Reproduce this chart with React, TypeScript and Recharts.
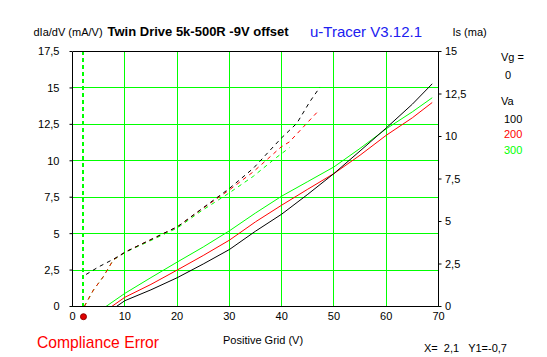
import React from "react";
import {
  LineChart,
  Line,
  XAxis,
  YAxis,
  CartesianGrid,
  ReferenceLine,
  ReferenceDot,
} from "recharts";

// ---- axis ticks ----
const xTicks = [0, 10, 20, 30, 40, 50, 60, 70];
const gmTicks = [0, 2.5, 5, 7.5, 10, 12.5, 15, 17.5];
const isTicks = [0, 2.5, 5, 7.5, 10, 12.5, 15];

// ---- legend ----
const vgValue = "0";
const vaValues = ["100", "200", "300"];

// ---- anode current Is (mA) vs positive grid voltage (V) ----
const isVa100: [number, number][] = [
  [8.4, 0], [10, 0.34], [15, 0.98], [20, 1.69], [25, 2.5], [30, 3.35], [35, 4.43],
  [40, 5.43], [45, 6.6], [50, 7.82], [55, 9.15], [60, 10.5], [65, 11.9], [68.8, 13.1],
];
const isVa200: [number, number][] = [
  [7.5, 0], [10, 0.54], [15, 1.3], [20, 2.14], [25, 3.0], [30, 3.9], [35, 4.98],
  [40, 5.96], [45, 6.9], [50, 7.82], [55, 8.9], [60, 10.07], [65, 11.1], [68.8, 12.0],
];
const isVa300: [number, number][] = [
  [6.4, 0], [10, 0.77], [15, 1.7], [20, 2.61], [25, 3.5], [30, 4.45], [35, 5.5],
  [40, 6.49], [45, 7.35], [50, 8.21], [55, 9.3], [60, 10.45], [65, 11.45], [68.8, 12.28],
];

// ---- transconductance dIa/dV (mA/V) ----
const gmVa100: [number, number][] = [
  [2.6, 2.2], [5, 2.72], [7.8, 3.24], [10.2, 3.76], [14.8, 4.56], [20.1, 5.48], [24.4, 6.62],
  [30, 8.1], [34.6, 9.49], [39.9, 11.54], [42.9, 12.57], [45.4, 14.06], [47.3, 15.04],
];
const gmVa200: [number, number][] = [
  [2.25, 0], [4, 1.13], [5.9, 2.05], [7.8, 3.2], [10.2, 3.76], [14.8, 4.56], [20.1, 5.48],
  [24.4, 6.6], [30, 8.0], [34.6, 9.25], [39.9, 10.95], [41.5, 11.3], [44.8, 12.57], [47.1, 13.45],
];
const gmVa300: [number, number][] = [
  [2.25, 0], [4, 1.13], [5.9, 2.05], [7.8, 3.19], [10.2, 3.74], [14.8, 4.5], [20.1, 5.4],
  [24.4, 6.5], [30, 7.8], [34.6, 8.94], [38.9, 10.2], [41.5, 10.9],
];

// cursor
const cursorX = 2.1;
const cursorY = -0.7;

const toPts = (a: [number, number][]) => a.map(([x, y]) => ({ x, y }));

const GREEN = "#00ff00";
const RED = "#ff0000";
const BLACK = "#000000";
const FONT = "'Liberation Sans', Arial, sans-serif";

const fmt = (v: number) => String(v).replace(".", ",");

export default function App() {
  const tickStyle = { fill: "#000", fontSize: 11, fontFamily: FONT };
  return (
    <div style={{ position: "absolute", left: 0, top: 0, width: 547, height: 357, background: "#fff" }}>
      <LineChart
        width={547}
        height={357}
        margin={{ top: 51.5, right: 0, bottom: 20.5, left: 0 }}
      >
        <CartesianGrid stroke={GREEN} yAxisId="left" shapeRendering="crispEdges" />
        <XAxis
          dataKey="x"
          type="number"
          domain={[0, 70]}
          ticks={xTicks}
          height={30}
          tickLine={false}
          tickSize={3}
          tickMargin={3}
          axisLine={{ stroke: BLACK }}
          tick={tickStyle}
          allowDataOverflow
        />
        <YAxis
          yAxisId="left"
          type="number"
          domain={[0, 17.5]}
          ticks={gmTicks}
          width={72.5}
          tickSize={3}
          tickMargin={10}
          tickFormatter={fmt}
          axisLine={{ stroke: BLACK }}
          tickLine={{ stroke: BLACK }}
          tick={tickStyle}
          allowDataOverflow
        />
        <YAxis
          yAxisId="right"
          orientation="right"
          type="number"
          domain={[0, 15]}
          ticks={isTicks}
          width={108.5}
          tickSize={3}
          tickMargin={3.5}
          tickFormatter={fmt}
          axisLine={{ stroke: BLACK }}
          tickLine={{ stroke: BLACK }}
          tick={tickStyle}
          allowDataOverflow
        />
        <ReferenceLine yAxisId="left" y={17.5} stroke={BLACK} shapeRendering="crispEdges" />
        <ReferenceLine
          yAxisId="left"
          x={cursorX}
          stroke={GREEN}
          strokeOpacity={1}
          strokeWidth={2}
          strokeDasharray="4 3"
          shapeRendering="crispEdges"
        />

        <Line yAxisId="left" data={toPts(gmVa300)} dataKey="y" stroke={GREEN} strokeWidth={1} strokeDasharray="4 4" dot={false} isAnimationActive={false} />
        <Line yAxisId="left" data={toPts(gmVa200)} dataKey="y" stroke={RED} strokeWidth={1} strokeDasharray="4 4" dot={false} isAnimationActive={false} />
        <Line yAxisId="left" data={toPts(gmVa100)} dataKey="y" stroke={BLACK} strokeWidth={1} strokeDasharray="4 4" dot={false} isAnimationActive={false} />

        <Line yAxisId="right" data={toPts(isVa300)} dataKey="y" stroke={GREEN} strokeWidth={1} dot={false} isAnimationActive={false} />
        <Line yAxisId="right" data={toPts(isVa200)} dataKey="y" stroke={RED} strokeWidth={1} dot={false} isAnimationActive={false} />
        <Line yAxisId="right" data={toPts(isVa100)} dataKey="y" stroke={BLACK} strokeWidth={1} dot={false} isAnimationActive={false} />

        <ReferenceDot yAxisId="left" x={cursorX} y={cursorY} r={3} fill="#e00000" stroke="#900000" strokeWidth={1} ifOverflow="visible" />
      </LineChart>

      <svg
        width={547}
        height={357}
        style={{ position: "absolute", left: 0, top: 0, pointerEvents: "none" }}
        fontFamily={FONT}
      >
        <text x={33.5} y={35.5} fontSize={11} fill="#000">dIa/dV (mA/V)</text>
        <text x={107.5} y={35.5} fontSize={13} fontWeight="bold" fill="#000">Twin Drive 5k-500R -9V offset</text>
        <text x={310} y={37} fontSize={15} fill="#2020f0">u-Tracer V3.12.1</text>
        <text x={452.5} y={35.5} fontSize={11} fill="#000">Is (ma)</text>

        <text x={501} y={61} fontSize={11} fill="#000">Vg =</text>
        <text x={505} y={79} fontSize={11} fill="#000">{vgValue}</text>
        <text x={501} y={105} fontSize={11} fill="#000">Va</text>
        <text x={504} y={122.5} fontSize={11} fill={BLACK}>{vaValues[0]}</text>
        <text x={504} y={137.5} fontSize={11} fill={RED}>{vaValues[1]}</text>
        <text x={504} y={153.5} fontSize={11} fill={GREEN}>{vaValues[2]}</text>

        <text x={37} y={347.5} fontSize={15.7} fill={RED}>Compliance Error</text>
        <text x={223} y={344} fontSize={11} fill="#000">Positive Grid (V)</text>
        <text x={424} y={352} fontSize={11} fill="#000" style={{ whiteSpace: "pre" }}>{"X=  2,1   Y1=-0,7"}</text>
      </svg>
    </div>
  );
}
